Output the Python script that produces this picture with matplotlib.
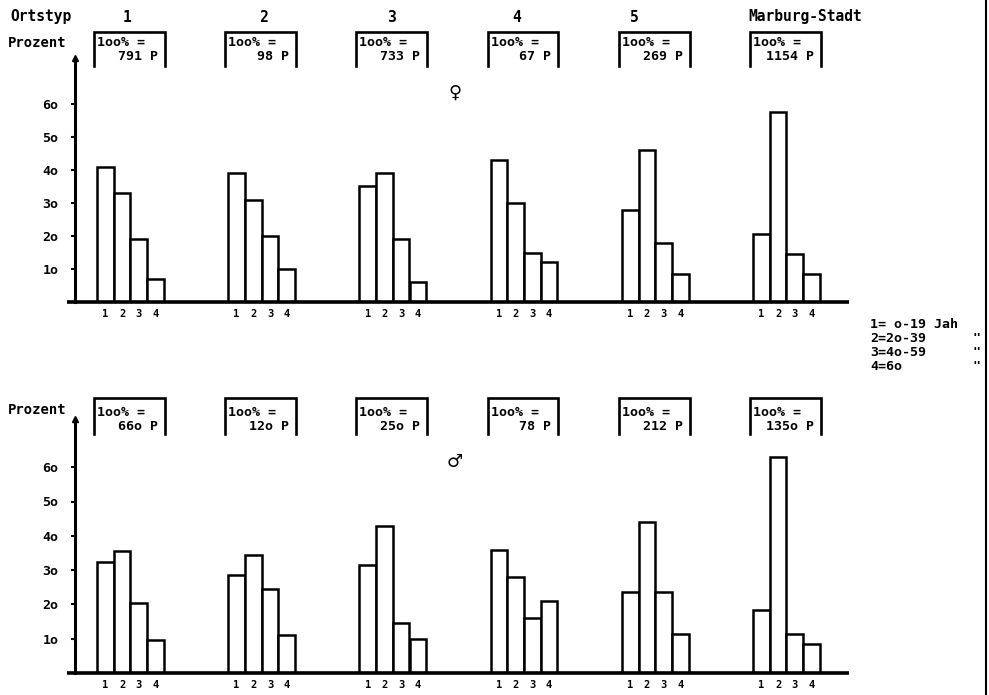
import matplotlib
matplotlib.use("Agg")
import matplotlib.pyplot as plt
import numpy as np

# --- data -------------------------------------------------------------
ortstypen = ["1", "2", "3", "4", "5", "Marburg-Stadt"]
altersklassen = ["1", "2", "3", "4"]

# percentage shares per age class (1..4) for each Ortstyp
frauen = [
    [41, 33, 19, 7],
    [39, 31, 20, 10],
    [35, 39, 19, 6],
    [43, 30, 15, 12],
    [28, 46, 18, 8.5],
    [20.5, 57.5, 14.5, 8.5],
]
maenner = [
    [32.5, 35.5, 20.5, 9.5],
    [28.5, 34.5, 24.5, 11],
    [31.5, 43, 14.5, 10],
    [36, 28, 16, 21],
    [23.5, 44, 23.5, 11.5],
    [18.5, 63, 11.5, 8.5],
]
n_frauen = ["791 P", "98 P", "733 P", "67 P", "269 P", "1154 P"]
n_maenner = ["66o P", "12o P", "25o P", "78 P", "212 P", "135o P"]

ytick_vals = [10, 20, 30, 40, 50, 60]
ytick_txt = ["1o", "2o", "3o", "4o", "5o", "6o"]
legende = ["1= o-19 Jah", "2=2o-39", "3=4o-59", "4=6o"]

# --- layout (pixels of a 989 x 695 canvas) -----------------------------
W, H = 989, 695
AX_L, AX_R = 75, 849
BAR_PX = 16.7                    # one bar width in pixels
G0 = (97 - AX_L) / BAR_PX        # first group start, in bar units
GSTEP = 131.2 / BAR_PX           # group spacing, in bar units
YMAX = 74

FONT = "DejaVu Sans Mono"
INK = "black"

fig = plt.figure(figsize=(W / 100, H / 100), dpi=100)
fig.patch.set_facecolor("white")

# overlay in pixel coordinates for headers, boxes and legend
ov = fig.add_axes([0, 0, 1, 1])
ov.set_xlim(0, W)
ov.set_ylim(H, 0)
ov.axis("off")
ov.patch.set_alpha(0)


def to_px(xd):
    return AX_L + xd * BAR_PX


def panel(base_px, px_per_unit, werte, symbol, sym_y):
    height_px = YMAX * px_per_unit
    ax = fig.add_axes([AX_L / W, 1 - base_px / H,
                       (AX_R - AX_L) / W, height_px / H])
    ax.patch.set_alpha(0)
    xmax = (AX_R - AX_L) / BAR_PX
    ax.set_xlim(0, xmax)
    ax.set_ylim(0, YMAX)
    for s in ["top", "right", "bottom"]:
        ax.spines[s].set_visible(False)
    ax.spines["left"].set_linewidth(2.2)
    centers, labels = [], []
    for g, vals in enumerate(werte):
        start = G0 + g * GSTEP
        x = start + np.arange(len(vals)) + 0.5
        ax.bar(x, vals, width=1.0, facecolor="white", edgecolor=INK,
               linewidth=1.8, zorder=3)
        centers.extend(x)
        labels.extend(altersklassen)
    # baseline running slightly left of the y axis
    ax.plot([-0.45, xmax], [0, 0], color=INK, lw=2.6, clip_on=False,
            solid_capstyle="butt", zorder=4)
    ax.plot([0], [YMAX], marker="^", ms=5, color=INK, clip_on=False)
    ax.set_yticks(ytick_vals)
    ax.set_yticklabels(ytick_txt, fontfamily=FONT, fontweight="bold",
                       fontsize=9.5)
    ax.tick_params(axis="y", direction="out", length=3, width=1.5, pad=9)
    ax.set_xticks(centers)
    ax.set_xticklabels(labels, fontfamily=FONT, fontweight="bold",
                       fontsize=7.5)
    ax.tick_params(axis="x", length=0, pad=5)
    ov.text(455, sym_y, symbol, fontsize=13, fontweight="bold",
            ha="center", va="center", color=INK)
    return ax


def boxes(top, bottom, line1_y, line2_y, texts):
    for g, t in enumerate(texts):
        x0 = to_px(G0 + g * GSTEP) - 3
        x1 = to_px(G0 + g * GSTEP + 4) + 1
        ov.plot([x0, x0, x1, x1], [bottom, top, top, bottom], color=INK,
                lw=1.9, solid_joinstyle="miter")
        ov.text(x0 + 3, line1_y, "1oo% =", fontfamily=FONT,
                fontweight="bold", fontsize=9.5, va="center", ha="left")
        ov.text(x1 - 7, line2_y, t, fontfamily=FONT, fontweight="bold",
                fontsize=9.5, va="center", ha="right")


panel(302, 3.30, frauen, "\u2640", 93)
panel(673, 3.43, maenner, "\u2642", 462)

# header row
ov.text(10, 17, "Ortstyp", fontfamily=FONT, fontweight="bold",
        fontsize=10.5, va="center", ha="left")
for xh, name in zip([127, 263, 391, 517, 634], ortstypen[:5]):
    ov.text(xh, 17, name, fontfamily=FONT, fontweight="bold", fontsize=10.5,
            va="center", ha="center")
ov.text(748, 17, ortstypen[5], fontfamily=FONT, fontweight="bold",
        fontsize=10.5, va="center", ha="left")

ov.text(8, 43, "Prozent", fontfamily=FONT, fontweight="bold", fontsize=10,
        va="center", ha="left")
ov.text(8, 410, "Prozent", fontfamily=FONT, fontweight="bold", fontsize=10,
        va="center", ha="left")

boxes(32, 66, 42, 57, n_frauen)
boxes(398, 434, 412, 427, n_maenner)

# age-class key
for i, line in enumerate(legende):
    ov.text(870, 325 + i * 14, line, fontfamily=FONT, fontweight="bold",
            fontsize=9.5, va="center", ha="left")
    if i > 0:
        ov.text(977, 325 + i * 14, '"', fontfamily=FONT, fontweight="bold",
                fontsize=9.5, va="center", ha="center")

# page edge
ov.plot([986, 986], [0, H], color=INK, lw=1.5)

fig.savefig("out.png", dpi=100, facecolor="white")
